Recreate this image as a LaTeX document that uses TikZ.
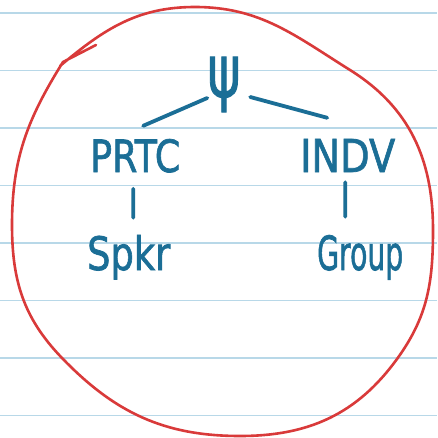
\documentclass[tikz,border=0pt]{standalone}
\usepackage{fontspec}
\setmainfont{DejaVu Sans}
\newfontfamily\handfont[FakeBold=1.6]{DejaVu Sans}
\usepackage{graphicx}
\usetikzlibrary{calc}
\definecolor{ink}{HTML}{1B6E96}
\definecolor{paperrule}{HTML}{B8D8E8}
\definecolor{marker}{HTML}{D93A3A}
% squeeze a word to a given width and cap height
\newcommand{\handword}[3]{\resizebox{#1pt}{#2pt}{\handfont #3}}

\begin{document}
\begin{tikzpicture}[x=1pt,y=-1pt,
  word/.style={inner sep=0pt, anchor=base west, text=ink},
  inkline/.style={draw=ink, line width=3.8pt, line cap=round},
  ruled/.style={draw=paperrule, line width=1.6pt},
  redloop/.style={draw=marker, line width=2.6pt, line cap=round, line join=round}]
\fill[white] (0,0) rectangle (437,438);
\useasboundingbox (0,0) rectangle (437,438);

% ruled notebook paper
\foreach \y in {13,70.5,128,185.5,243,300.5,358,415.5}
  \draw[ruled] (0,\y) -- (437,\y);

% words
\node[inner sep=0pt, text=ink] (psi) at (224,84.5) {\resizebox*{33pt}{55pt}{\handfont ψ}};
\node[word] (prtc)  at (90,172)  {\handword{90}{33}{PRTC}};
\node[word] (indv)  at (300,172) {\handword{95}{33}{INDV}};
\node[word] (spkr)  at (87,270)  {\handword{83}{35}{Spkr}};
\node[word] (group) at (317,270) {\handword{86}{35}{Group}};

% tree branches
\draw[inkline] ($(psi.west)+(0,13.5)$) -- ($(prtc.north)+(8,-13)$);
\draw[inkline] ($(psi.east)+(9.5,12.5)$) -- ($(indv.north)+(-20.5,-21)$);
\draw[inkline] ($(prtc.south)+(-2,16)$) -- ($(spkr.north)+(4.5,-17)$);
\draw[inkline] ($(indv.south)+(-2.5,10)$) -- ($(group.north)+(-15,-18)$);

% red loop round the whole tree (out/in angles are page angles)
\draw[redloop] (96,45) -- (63,62)
  to[out=238,in=90]  (12,225)
  to[out=270,in=134] (62,358)
  to[out=314,in=180] (240,436)
  to[out=0,in=234]   (397,359)
  to[out=54,in=270]  (433,230)
  to[out=90,in=328]  (350,70)
  to[out=148,in=0]   (195,7)
  to[out=180,in=40]  (60,66);
\end{tikzpicture}
\end{document}
